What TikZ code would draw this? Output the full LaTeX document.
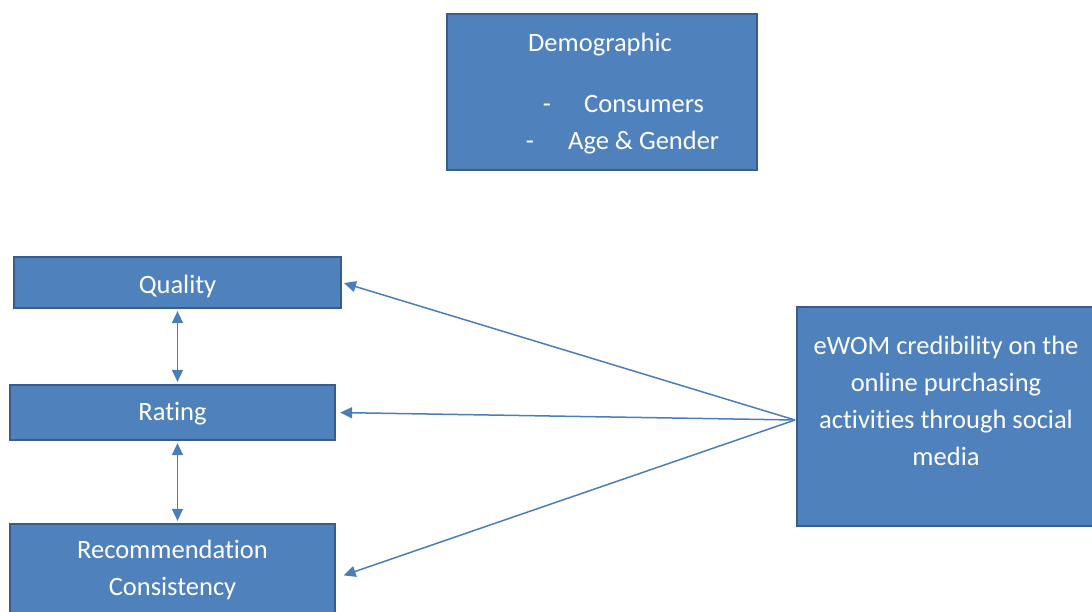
\documentclass[tikz,border=0pt]{standalone}
\usepackage{fontspec}
\setmainfont{Carlito}[Ligatures=NoCommon]
\usetikzlibrary{arrows.meta, positioning}
\definecolor{boxfill}{HTML}{4F81BD}
\definecolor{boxline}{HTML}{385D8A}
\definecolor{linkcol}{HTML}{4A7EBB}

\begin{document}
\begin{tikzpicture}[x=1pt, y=-1pt,
    box/.style={draw=boxline, line width=2.2pt, fill=boxfill, text=white,
      inner sep=0pt, align=center, font=\fontsize{26.5}{37}\selectfont},
    txt/.style={text=white, inner sep=0pt, anchor=base,
      font=\fontsize{26.5}{37}\selectfont},
    link/.style={draw=linkcol, line width=1.5pt, -{Triangle[length=12pt,width=11pt]}},
    both/.style={draw=linkcol, line width=1.5pt,
      {Triangle[length=12pt,width=11pt]}-{Triangle[length=12pt,width=11pt]}}]
  \useasboundingbox (0,0) rectangle (1092,611);

  % top box
  \node[box, minimum width=310pt, minimum height=156pt] (demo) at (602,92) {};
  \node[txt] (demohead) at (600,51) {Demographic};
  \node[txt] (dash1) at (547,112) {-};
  \node[txt, anchor=base west] (cons) at (584,112) {Consumers};
  \node[txt] (dash2) at (530,149) {-};
  \node[txt, anchor=base west] (agegen) at (568,149) {Age \& Gender};

  % left column
  \node[box, minimum width=327pt, minimum height=51pt] (qual) at (177.5,282.5) {};
  \node[txt] (qualtext) at (177.5,293.5) {Quality};
  \node[box, minimum width=325pt, minimum height=55pt] (rate) at (172.5,412.5) {};
  \node[txt] (ratetext) at (172.5,420) {Rating};
  \node[box, minimum width=325pt, minimum height=92pt] (recom) at (172.5,570)
    {Recommendation\\Consistency};

  % right box
  \node[box, minimum width=298pt, minimum height=219pt] (ewom) at (946,416.5) {};
  \node[box, draw=none, fill=none] (ewomtext) at (946,401)
    {eWOM credibility on the\\online purchasing\\activities through social\\media};

  \coordinate (src) at (795,420);
  \draw[link, shorten >=2pt] (src) -- (qual.east);
  \draw[link, shorten >=4pt] (src) -- (rate.east);
  \draw[link, shorten >=8pt] (src) -- ([yshift=-8pt]recom.east);

  \draw[both, shorten <=2pt, shorten >=2pt] (qual.south) -- (qual.south |- rate.north);
  \draw[both, shorten <=2pt, shorten >=2pt] (rate.south -| qual.south) -- (qual.south |- recom.north);
\end{tikzpicture}
\end{document}
